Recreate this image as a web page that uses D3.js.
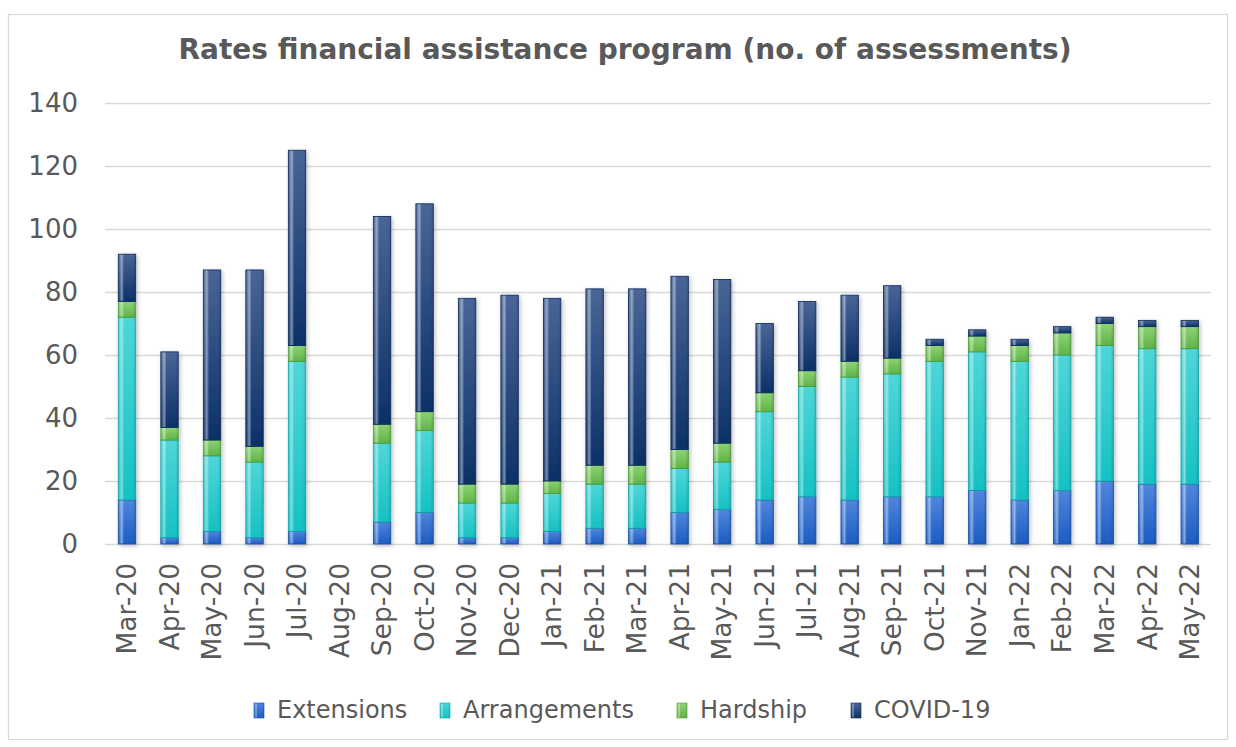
<!DOCTYPE html>
<html>
<head>
<meta charset="utf-8">
<script src="https://cdn.jsdelivr.net/npm/d3@7"></script>
<style>
  body { margin: 0; background: #fff; }
  text { font-family: "DejaVu Sans", sans-serif; fill: #595959; }
</style>
</head>
<body>
<div id="chart-area"></div>
<script>
// data
const months = ["Mar-20","Apr-20","May-20","Jun-20","Jul-20","Aug-20","Sep-20","Oct-20","Nov-20","Dec-20",
    "Jan-21","Feb-21","Mar-21","Apr-21","May-21","Jun-21","Jul-21","Aug-21","Sep-21","Oct-21","Nov-21",
    "Jan-22","Feb-22","Mar-22","Apr-22","May-22"];
const extensions   = [14, 2, 4, 2, 4, 0, 7,10, 2, 2, 4, 5, 5,10,11,14,15,14,15,15,17,14,17,20,19,19];
const arrangements = [58,31,24,24,54, 0,25,26,11,11,12,14,14,14,15,28,35,39,39,43,44,44,43,43,43,43];
const hardship     = [ 5, 4, 5, 5, 5, 0, 6, 6, 6, 6, 4, 6, 6, 6, 6, 6, 5, 5, 5, 5, 5, 5, 7, 7, 7, 7];
const covid        = [15,24,54,56,62, 0,66,66,59,60,58,56,56,55,52,22,22,21,23, 2, 2, 2, 2, 2, 2, 2];
const seriesNames = ["Extensions","Arrangements","Hardship","COVID-19"];
const yTicks = [0,20,40,60,80,100,120,140];

const W = 1236, H = 747;
const plot = { left: 105.75, right: 1211, top: 103, bottom: 544 };

// colours: [top, bottom, edge]
const colors = {
    "Extensions":   ["#4f86dc", "#1c5cc2", "#1a4f9e"],
    "Arrangements": ["#4fd6d8", "#16c1c3", "#10a3a5"],
    "Hardship":     ["#8ed276", "#5fb446", "#4c9a36"],
    "COVID-19":     ["#4a6597", "#0c3168", "#0a2a58"]
};

var svg = d3.select("#chart-area")
    .append("svg")
    .attr("width", W)
    .attr("height", H);

svg.append("rect")
    .attr("width", W).attr("height", H)
    .attr("fill", "#fff");

// outer chart border
svg.append("rect")
    .attr("x", 8.5).attr("y", 14.5)
    .attr("width", 1219).attr("height", 725)
    .attr("fill", "none")
    .attr("stroke", "#d9d9d9")
    .attr("stroke-width", 1.2);

const defs = svg.append("defs");

seriesNames.forEach(function(name, i){
    const c = colors[name];
    const g = defs.append("linearGradient")
        .attr("id", "grad" + i)
        .attr("x1", 0).attr("y1", 0).attr("x2", 0).attr("y2", 1);
    g.append("stop").attr("offset", "0%").attr("stop-color", c[0]);
    g.append("stop").attr("offset", "100%").attr("stop-color", c[1]);
});

// glossy stripe on the left of each segment
const hl = defs.append("linearGradient")
    .attr("id", "gloss")
    .attr("x1", 0).attr("y1", 0).attr("x2", 1).attr("y2", 0);
hl.append("stop").attr("offset", "0%").attr("stop-color", "#fff").attr("stop-opacity", 0.05);
hl.append("stop").attr("offset", "18%").attr("stop-color", "#fff").attr("stop-opacity", 0.45);
hl.append("stop").attr("offset", "32%").attr("stop-color", "#fff").attr("stop-opacity", 0.0);
hl.append("stop").attr("offset", "85%").attr("stop-color", "#000").attr("stop-opacity", 0.0);
hl.append("stop").attr("offset", "100%").attr("stop-color", "#000").attr("stop-opacity", 0.12);

const shadow = defs.append("filter")
    .attr("id", "shadow")
    .attr("x", "-50%").attr("y", "-10%").attr("width", "200%").attr("height", "120%");
shadow.append("feDropShadow")
    .attr("dx", 1.5).attr("dy", 1.5).attr("stdDeviation", 2)
    .attr("flood-color", "#000").attr("flood-opacity", 0.25);

const y = d3.scaleLinear()
    .domain([0, 140])
    .range([plot.bottom, plot.top]);

const x = d3.scaleBand()
    .domain(months)
    .range([plot.left, plot.right])
    .paddingInner(0.59)
    .paddingOuter(0.295);

// gridlines
const grid = svg.append("g")
    .attr("class", "grid")
    .call(d3.axisLeft(y).tickValues(yTicks).tickSize(-(plot.right - 105)).tickFormat(""));
grid.select(".domain").remove();
grid.selectAll("line")
    .attr("transform", "translate(105,0)")
    .attr("stroke", "#d9d9d9")
    .attr("stroke-width", 1.5);

// y axis labels
const yAxis = svg.append("g")
    .attr("class", "y-axis")
    .attr("transform", "translate(105,0)")
    .call(d3.axisLeft(y).tickValues(yTicks).tickSize(0).tickPadding(27));
yAxis.select(".domain").remove();
yAxis.selectAll("text")
    .attr("font-size", "26px")
    .style("fill", "#595959");

// stacked bars
const table = months.map(function(m, i){
    return { month: m, "Extensions": extensions[i], "Arrangements": arrangements[i],
             "Hardship": hardship[i], "COVID-19": covid[i] };
});
const stacked = d3.stack().keys(seriesNames)(table);

const layers = svg.append("g")
    .attr("filter", "url(#shadow)")
    .selectAll("g")
    .data(stacked)
    .enter()
    .append("g");

layers.each(function(layer, i){
    const segs = d3.select(this).selectAll("g")
        .data(layer.filter(function(d){ return d[1] - d[0] > 0; }))
        .enter()
        .append("g");
    segs.append("rect")
        .attr("x", function(d){ return x(d.data.month); })
        .attr("y", function(d){ return y(d[1]); })
        .attr("width", x.bandwidth())
        .attr("height", function(d){ return y(d[0]) - y(d[1]); })
        .attr("fill", "url(#grad" + i + ")")
        .attr("stroke", colors[layer.key][2])
        .attr("stroke-width", 0.8);
    segs.append("rect")
        .attr("x", function(d){ return x(d.data.month) + 0.5; })
        .attr("y", function(d){ return y(d[1]) + 0.5; })
        .attr("width", x.bandwidth() - 1)
        .attr("height", function(d){ return Math.max(0, y(d[0]) - y(d[1]) - 1); })
        .attr("fill", "url(#gloss)");
});

// x axis labels
const xAxis = svg.append("g")
    .attr("class", "x-axis")
    .attr("transform", "translate(0," + plot.bottom + ")")
    .call(d3.axisBottom(x).tickSize(0).tickPadding(0));
xAxis.select(".domain").remove();
xAxis.selectAll("text")
    .attr("font-size", "26.5px")
    .attr("transform", "rotate(-90)")
    .attr("text-anchor", "end")
    .attr("x", -19)
    .attr("y", 0)
    .attr("dy", "0.35em")
    .style("fill", "#595959");

// title
svg.append("text")
    .attr("x", 625)
    .attr("y", 59)
    .attr("text-anchor", "middle")
    .attr("font-size", "28px")
    .attr("font-weight", "bold")
    .text("Rates financial assistance program (no. of assessments)");

// legend
const legendX = [254, 440, 677, 851];
const legend = svg.append("g")
    .selectAll("g")
    .data(seriesNames)
    .enter()
    .append("g")
    .attr("transform", function(d, i){ return "translate(" + legendX[i] + ",710)"; });
legend.append("rect")
    .attr("x", 0).attr("y", -7)
    .attr("width", 10).attr("height", 15)
    .attr("fill", function(d, i){ return "url(#grad" + i + ")"; })
    .attr("stroke", function(d){ return colors[d][2]; })
    .attr("stroke-width", 0.6);
legend.append("rect")
    .attr("x", 0.5).attr("y", -6.5)
    .attr("width", 9).attr("height", 14)
    .attr("fill", "url(#gloss)");
legend.append("text")
    .attr("x", 23)
    .attr("y", 0)
    .attr("dy", "0.35em")
    .attr("font-size", "24px")
    .text(function(d){ return d; });
</script>
</body>
</html>
